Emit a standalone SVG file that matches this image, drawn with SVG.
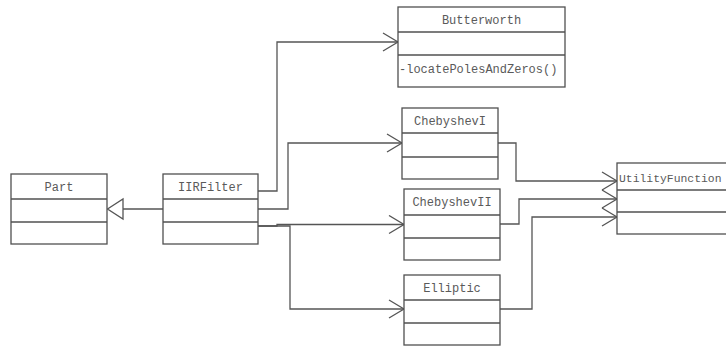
<svg xmlns="http://www.w3.org/2000/svg" width="726" height="348" viewBox="0 0 726 348">
  <style>
    .box { fill: #ffffff; stroke: #505050; stroke-width: 1.3; }
    .div { stroke: #505050; stroke-width: 1.3; }
    .lbl { font-family: "Liberation Mono", "DejaVu Sans Mono", monospace; font-size: 12px; fill: #5a5a5a; }
    .mid { text-anchor: middle; }
    .conn { fill: none; stroke: #555555; stroke-width: 1.3; }
  </style>
  <defs>
    <marker id="open" markerWidth="18" markerHeight="20" refX="16" refY="10" orient="auto" markerUnits="userSpaceOnUse">
      <path d="M1,1 L16,10 L1,19" fill="none" stroke="#555555" stroke-width="1.3"/>
    </marker>
  </defs>

  <rect width="726" height="348" fill="#ffffff"/>

  <g id="connectors">
    <!-- generalization IIRFilter -> Part -->
    <path class="conn" d="M163,209 H123"/>
    <path d="M107.5,209 L123,199 L123,219 Z" fill="#ffffff" stroke="#555555" stroke-width="1.3"/>
    <!-- IIRFilter -> Butterworth -->
    <path class="conn" d="M258,191 H277 V42 H398" marker-end="url(#open)"/>
    <!-- IIRFilter -> ChebyshevI -->
    <path class="conn" d="M258,209 H288 V143 H402" marker-end="url(#open)"/>
    <!-- IIRFilter -> ChebyshevII -->
    <path class="conn" d="M258,226 H277 V224.5 H404" marker-end="url(#open)"/>
    <!-- IIRFilter -> Elliptic -->
    <path class="conn" d="M258,226 H290 V309 H404" marker-end="url(#open)"/>
    <!-- filters -> UtilityFunction -->
    <path class="conn" d="M498,143 H516 V181 H617" marker-end="url(#open)"/>
    <path class="conn" d="M500,224 H519 V199 H617" marker-end="url(#open)"/>
    <path class="conn" d="M500,309 H532 V217 H617" marker-end="url(#open)"/>
  </g>

  <g id="part">
    <rect class="box" x="11" y="174" width="96" height="70"/>
    <line class="div" x1="11" y1="199" x2="107" y2="199"/>
    <line class="div" x1="11" y1="222" x2="107" y2="222"/>
    <text class="lbl mid" x="59" y="191">Part</text>
  </g>

  <g id="iirfilter">
    <rect class="box" x="163" y="174" width="95" height="70"/>
    <line class="div" x1="163" y1="199" x2="258" y2="199"/>
    <line class="div" x1="163" y1="222" x2="258" y2="222"/>
    <text class="lbl mid" x="210.5" y="191">IIRFilter</text>
  </g>

  <g id="butterworth">
    <rect class="box" x="398" y="7" width="167" height="80"/>
    <line class="div" x1="398" y1="32" x2="565" y2="32"/>
    <line class="div" x1="398" y1="55" x2="565" y2="55"/>
    <text class="lbl mid" x="481.5" y="24">Butterworth</text>
    <text class="lbl" x="399" y="73">-locatePolesAndZeros()</text>
  </g>

  <g id="chebyshev1">
    <rect class="box" x="402" y="108" width="96" height="71"/>
    <line class="div" x1="402" y1="133" x2="498" y2="133"/>
    <line class="div" x1="402" y1="157" x2="498" y2="157"/>
    <text class="lbl mid" x="450" y="125">ChebyshevI</text>
  </g>

  <g id="chebyshev2">
    <rect class="box" x="404" y="189" width="96" height="71"/>
    <line class="div" x1="404" y1="215" x2="500" y2="215"/>
    <line class="div" x1="404" y1="238" x2="500" y2="238"/>
    <text class="lbl mid" x="452" y="206">ChebyshevII</text>
  </g>

  <g id="elliptic">
    <rect class="box" x="404" y="275" width="96" height="70"/>
    <line class="div" x1="404" y1="300" x2="500" y2="300"/>
    <line class="div" x1="404" y1="323" x2="500" y2="323"/>
    <text class="lbl mid" x="452" y="292">Elliptic</text>
  </g>

  <g id="utilityfunction">
    <rect class="box" x="617" y="163" width="120" height="71"/>
    <line class="div" x1="617" y1="190" x2="737" y2="190"/>
    <line class="div" x1="617" y1="212" x2="737" y2="212"/>
    <text class="lbl" x="619" y="182" style="font-size:11.4px">UtilityFunction</text>
  </g>
</svg>
